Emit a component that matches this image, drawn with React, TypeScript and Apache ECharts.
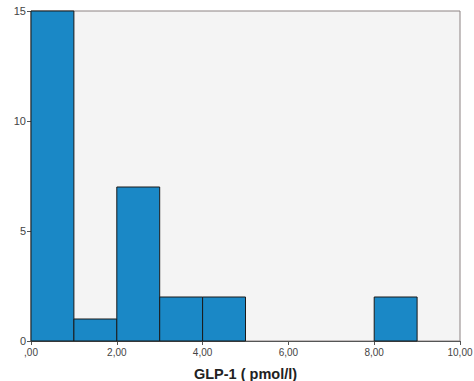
import React, { useEffect, useRef } from "react";
import * as echarts from "echarts";

const binStarts = [0, 1, 2, 3, 4, 8];
const binEnds = [1, 2, 3, 4, 5, 9];
const counts = [15, 1, 7, 2, 2, 2];
const yTicks = [0, 5, 10, 15];
const xTickLabels = [",00", "2,00", "4,00", "6,00", "8,00", "10,00"];

export default function App() {
  const ref = useRef<HTMLDivElement>(null);
  useEffect(() => {
    if (!ref.current) return;
    const chart = echarts.init(ref.current, undefined, { renderer: "svg" });
    const data = counts.map((c, i) => [binStarts[i], binEnds[i], c]);
    chart.setOption({
      animation: false,
      backgroundColor: "#ffffff",
      grid: {
        left: 31,
        right: 14,
        top: 11,
        bottom: 40,
        outerBoundsMode: "none",
        show: true,
        backgroundColor: "#f4f4f4",
        borderColor: "#8c8282",
        borderWidth: 1,
      },
      xAxis: {
        type: "value",
        min: 0,
        max: 10,
        interval: 2,
        name: "GLP-1 ( pmol/l)",
        nameLocation: "middle",
        nameGap: 25,
        nameTextStyle: { fontFamily: "Liberation Sans", fontWeight: "bold", fontSize: 14.5, color: "#222" },
        axisLine: { show: true, lineStyle: { color: "#555", width: 1 } },
        axisTick: { show: true, length: 4, lineStyle: { color: "#555" } },
        splitLine: { show: false },
        axisLabel: {
          fontFamily: "Liberation Sans",
          fontSize: 10,
          color: "#444",
          margin: 6,
          formatter: (v: number) => xTickLabels[Math.round(v / 2)] ?? "",
        },
      },
      yAxis: {
        type: "value",
        min: 0,
        max: 15,
        interval: 5,
        axisLine: { show: true, lineStyle: { color: "#bbb", width: 1 } },
        axisTick: { show: true, length: 4, lineStyle: { color: "#555" } },
        splitLine: { show: false },
        axisLabel: {
          fontFamily: "Liberation Sans",
          fontSize: 11,
          color: "#444",
          margin: 5,
          formatter: (v: number) => (yTicks.includes(v) ? String(v) : ""),
        },
      },
      series: [
        {
          type: "custom",
          data,
          encode: { x: [0, 1], y: 2 },
          renderItem: (params: any, api: any) => {
            const s = api.coord([api.value(0), api.value(2)]);
            const e = api.coord([api.value(1), 0]);
            return {
              type: "rect",
              shape: { x: s[0], y: s[1], width: e[0] - s[0], height: e[1] - s[1] },
              style: { fill: "#1a88c6", stroke: "#1a1a1a", lineWidth: 1 },
            };
          },
        },
      ],
    });
    return () => chart.dispose();
  }, []);
  return (
    <div
      ref={ref}
      style={{ position: "fixed", left: 0, top: 0, width: 474, height: 381 }}
    />
  );
}
